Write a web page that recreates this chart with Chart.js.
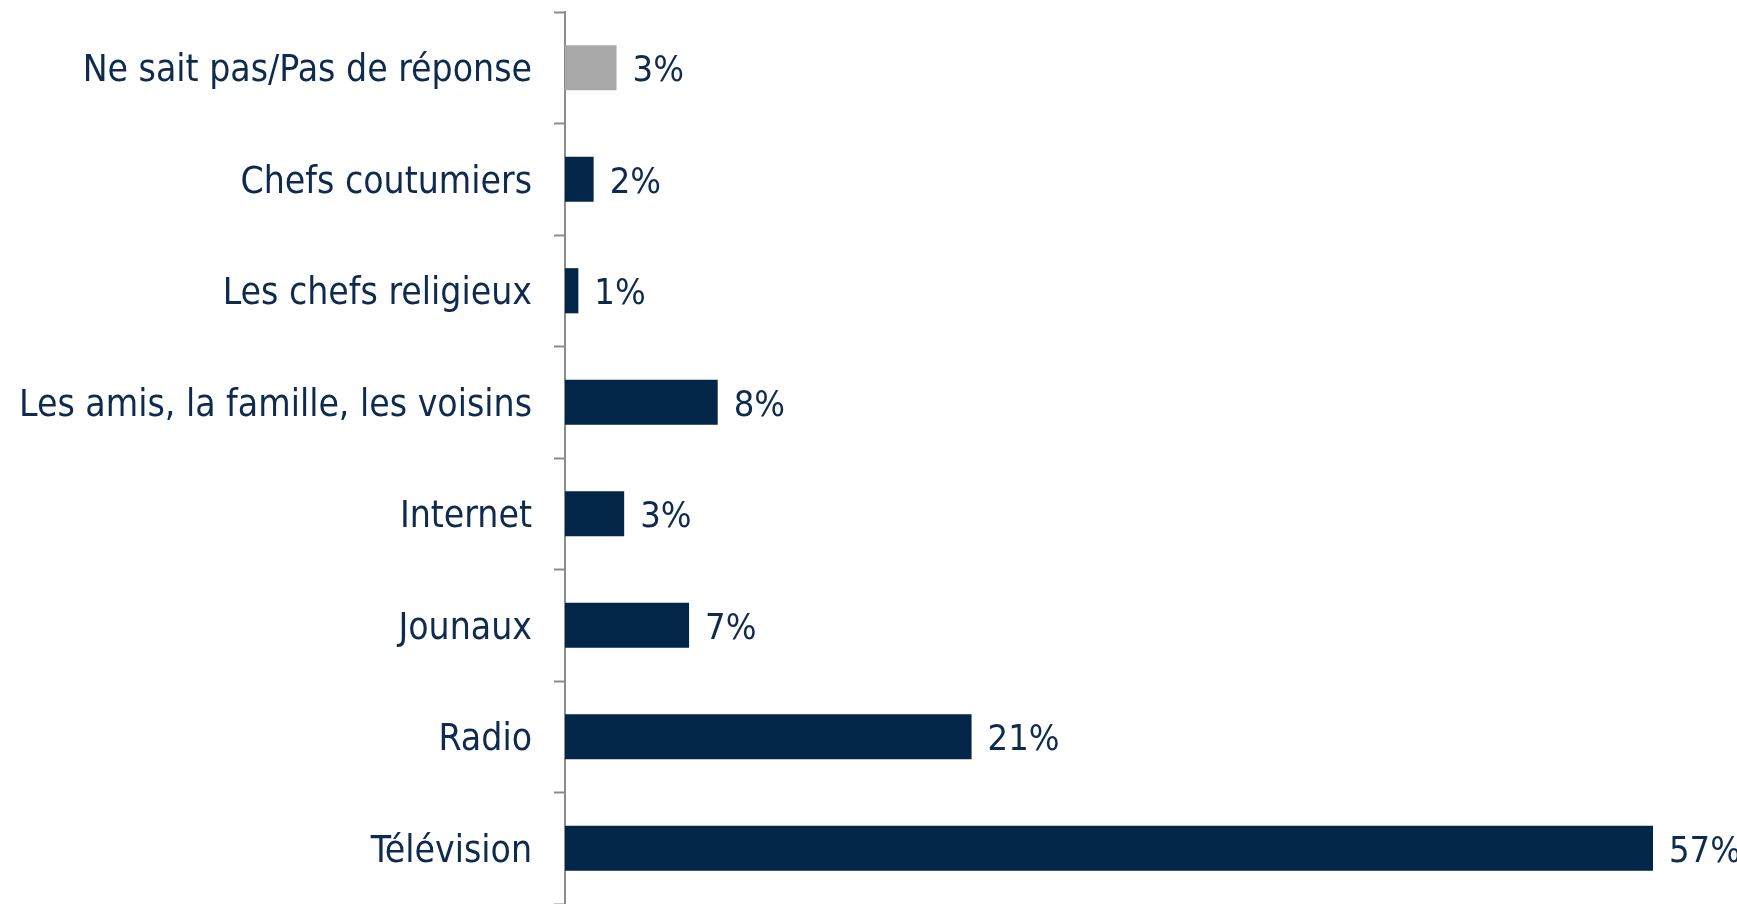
<!DOCTYPE html>
<html>
<head>
<meta charset="utf-8">
<script src="https://cdn.jsdelivr.net/npm/chart.js@4.4.1/dist/chart.umd.min.js"></script>
<style>
  html, body { margin: 0; padding: 0; background: #ffffff; }
  #wrap { width: 1737px; height: 904px; position: relative; }
</style>
</head>
<body>
<div id="wrap"><canvas id="c" width="1737" height="904"></canvas></div>
<script>
const categories = [
  "Ne sait pas/Pas de réponse",
  "Chefs coutumiers",
  "Les chefs religieux",
  "Les amis, la famille, les voisins",
  "Internet",
  "Jounaux",
  "Radio",
  "Télévision"
];
const values = [2.7, 1.5, 0.7, 8.0, 3.1, 6.5, 21.3, 57.0];
const valueLabels = ["3%", "2%", "1%", "8%", "3%", "7%", "21%", "57%"];
const barColors = ["#A9A9A9", "#022548", "#022548", "#022548", "#022548", "#022548", "#022548", "#022548"];

const TEXT_COLOR = "#0E2A4E";
const FONT_FAMILY = "'DejaVu Sans Condensed', 'DejaVu Sans', sans-serif";
const FONT_SIZE = 37;
const VALUE_FONT_SIZE = 36;

const valueLabelPlugin = {
  id: 'valueLabels',
  afterDatasetsDraw(chart) {
    const ctx = chart.ctx;
    const meta = chart.getDatasetMeta(0);
    ctx.save();
    ctx.font = VALUE_FONT_SIZE + "px " + FONT_FAMILY;
    ctx.fillStyle = TEXT_COLOR;
    ctx.textAlign = 'left';
    ctx.textBaseline = 'middle';
    meta.data.forEach((bar, i) => {
      ctx.fillText(valueLabels[i], bar.x + 16, bar.y + 4);
    });
    ctx.restore();
  }
};

new Chart(document.getElementById('c'), {
  type: 'bar',
  data: {
    labels: categories,
    datasets: [{
      data: values,
      backgroundColor: barColors,
      borderWidth: 0,
      barPercentage: 0.405,
      categoryPercentage: 1.0
    }]
  },
  options: {
    indexAxis: 'y',
    responsive: false,
    animation: false,
    devicePixelRatio: 1,
    layout: { padding: { top: 12, right: 84, bottom: 0, left: 0 } },
    plugins: {
      legend: { display: false },
      tooltip: { enabled: false }
    },
    scales: {
      x: {
        display: false,
        min: 0,
        max: 57
      },
      y: {
        afterFit(scale) {
          scale.width = 565;
          scale.paddingTop = 0;
          scale.paddingBottom = 0;
        },
        border: { display: true, color: '#8C8C8C', width: 2 },
        grid: {
          display: true,
          drawOnChartArea: false,
          drawTicks: true,
          tickLength: 11,
          tickWidth: 2,
          tickColor: '#8C8C8C',
          offset: true
        },
        ticks: {
          color: TEXT_COLOR,
          padding: 22,
          labelOffset: 4,
          font: { family: FONT_FAMILY, size: FONT_SIZE }
        }
      }
    }
  },
  plugins: [valueLabelPlugin]
});
</script>
</body>
</html>
